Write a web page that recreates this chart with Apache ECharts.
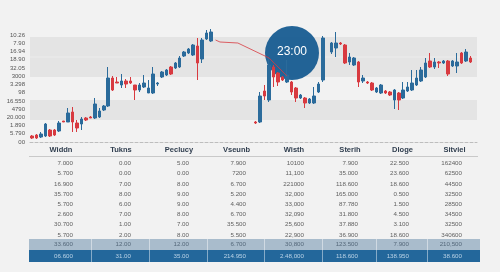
<!DOCTYPE html>
<html><head><meta charset="utf-8">
<script src="https://cdn.jsdelivr.net/npm/echarts@6/dist/echarts.min.js"></script>
<style>html,body{margin:0;padding:0;background:#f2f2f2}#c{width:500px;height:272px}</style>
</head><body><div id="c"></div>
<script>
// y-axis tick labels, bottom to top
const yTickLabels = ['00','5.790','1.890','20.000','4790','16.550','98','3.298','3000','32.05','18.90','16.94','7.90','10.26'];
// candle values per slot: [open, close, low, high], null = no candle
const ohlc = [
 [6,4,3,7],[7,4,3,8],[5,8,4,10],[6,18,5,19],[12,6,5,13],[12,7,6,13],[11,19,10,21],[21,20,20,21],[20,29,20,34],[30,20,10,35],
 [19,14,10,22],[18,23,12,25],[24,22,21,25],[25,24,24,26],[24,38,23,44],[25,31,24,34],[32,36,31,37],[36,64,35,75],[64,52,51,66],[60,59,59,65],
 [57,61,54,68],[61,58,54,63],[61,59,58,65],[57,52,42,57],[52,57,50,59],[55,59,54,67],[49,54,49,62],[49,68,48,75],[58,59,56,60],[65,70,64,71],
 [67,72,66,73],[75,68,67,76],[74,79,73,80],[75,84,74,86],[86,90,85,91],[89,93,88,94],[87,97,86,98],[96,79,62,104],[83,102,79,104],[103,109,102,112],
 [101,110,100,113],null,null,null,null,null,null,null,null,null,
 [20,19,18,21],[20,46,19,50],[51,46,42,57],[42,77,40,85],[75,65,55,77],[69,60,56,70],[65,62,61,66],[60,67,59,82],[60,50,47,61],[54,44,40,55],
 [44,47,43,48],[44,39,34,45],[39,43,38,44],[39,46,38,55],[50,58,49,60],[62,104,60,106],null,[90,99,88,100],[94,99,85,110],[99,98,97,100],
 [97,79,78,98],[80,85,77,89],[77,84,76,85],[80,60,55,81],[61,64,59,67],[60,59,58,61],[59,52,51,60],[50,54,49,55],[49,57,48,58],[51,49,48,52],
 [50,47,46,51],[42,52,33,53],[49,42,32,50],[44,52,43,60],[51,55,50,60],[52,59,51,72],[57,64,56,72],[61,72,60,75],[65,79,64,84],[81,75,74,89],
 [75,80,73,84],[80,79,74,81],[79,81,78,82],[81,68,66,82],[76,81,75,82],[76,80,69,89],[89,79,78,90],[81,90,80,93],[84,80,79,86],null
];
// red trend line: [slot, value]
const trendLine = [[41,102],[42,100],[46,99],[53,84],[57,66]];
const bubbleLabel = '23:00';
const tableHeaders = ['Widdn','Tukns','Peclucy','Vseunb','Wisth','Sterih','Dloge','Sitviel'];
const tableRows = [
 ['7.000','0.00','5.00','7.900','10100','7.900','22.500','162400'],
 ['5.700','0.00','0.00','7200','11,100','35.000','23.600','62500'],
 ['16.900','7.00','8.00','6.700','221000','118.600','18.600','44500'],
 ['35.700','8.00','9.00','5.200','32,000','165.000','0.500','32500'],
 ['5.700','6.00','9.00','4.400','33,000','87.780','1.500','28500'],
 ['2.600','7.00','8.00','6.700','32,090','31.800','4.500','34500'],
 ['30.700','1.00','7.00','35.500','25,600','37.880','3.100','32500'],
 ['5.700','2.00','8.00','5.500','22,900','36.900','18.600','340600']
];
const subtotalRow = ['33.600','12.00','12.00','6.700','30,800','123.500','7.900','210,500'];
const totalRow = ['06.600','31.00','35.00','214.950','2.48,000','118.600','138.950','38.600'];

const slots = ohlc.map((d, i) => String(i));
const BLUE = '#2b6b9b', RED = '#d83a40';
const YMAX = 107, YINT = YMAX / 13;

const chart = echarts.init(document.getElementById('c'));
const FONT = '"Liberation Sans", Arial, sans-serif';

// table graphics
const colEdges = [29, 91, 149, 207, 264, 322, 376, 427, 480];
const g = [];
g.push({type:'circle', z: 1, shape:{cx:292, cy:53, r:27}, style:{fill:'#175c91', opacity:0.95}});
g.push({type:'text', z: 10, x:292, y:52, style:{text:bubbleLabel, fill:'#ffffff', font:'12px ' + FONT, align:'center', verticalAlign:'middle'}});
tableHeaders.forEach((h, i) => {
  g.push({type:'text', x:(colEdges[i] + colEdges[i+1]) / 2 + 1, y:150, style:{text:h, fill:'#2f3d4e', font:'bold 7.5px ' + FONT, align:'center', verticalAlign:'middle'}});
});
g.push({type:'line', shape:{x1:29, y1:156.5, x2:478, y2:156.5}, style:{stroke:'#c9c9c9', lineWidth:1}});
function addRow(vals, cy, color) {
  vals.forEach((v, i) => {
    g.push({type:'text', x:colEdges[i+1] - 18, y:cy, style:{text:v, fill:color, font:'6.2px ' + FONT, align:'right', verticalAlign:'middle'}});
  });
}
tableRows.forEach((r, k) => addRow(r, 163.5 + 10.2 * k, '#5f5f5f'));
g.push({type:'rect', shape:{x:29, y:239, width:451, height:11}, style:{fill:'#a9bccc'}});
g.push({type:'rect', shape:{x:29, y:250, width:451, height:12}, style:{fill:'#23679b'}});
colEdges.slice(1, -1).forEach(x => {
  g.push({type:'line', shape:{x1:x + 0.5, y1:239, x2:x + 0.5, y2:262}, style:{stroke:'rgba(255,255,255,0.45)', lineWidth:1}});
});
addRow(subtotalRow, 244.5, '#55687a');
addRow(totalRow, 256, '#b9d2e6');

chart.setOption({
  backgroundColor: '#f2f2f2',
  animation: false,
  grid: {left: 30, right: 23, top: 35, bottom: 130},
  xAxis: {
    type: 'category', data: slots, boundaryGap: true,
    axisLine: {show: true, lineStyle: {color: '#bdbdbd', type: [3, 2], width: 1}},
    axisTick: {show: false}, axisLabel: {show: false}, splitLine: {show: false}
  },
  yAxis: {
    type: 'value', min: 0, max: YMAX, interval: YINT,
    axisLine: {show: false}, axisTick: {show: false}, splitLine: {show: false},
    axisLabel: {margin: 5, color: '#555', fontSize: 6, fontFamily: 'Liberation Sans',
      formatter: v => yTickLabels[Math.round(v / YINT)] || ''}
  },
  series: [
    {
      type: 'line', data: [], z: 0, silent: true,
      markArea: {z: 0, silent: true, itemStyle: {color: '#e4e4e4'}, data: [
        [{yAxis: 105}, {yAxis: 85.3}],
        [{yAxis: 84.7}, {yAxis: 65}],
        [{yAxis: 42}, {yAxis: 22}]
      ]}
    },
    {
      type: 'candlestick', z: 3, barWidth: 3,
      data: ohlc.map(d => d ? d : '-'),
      itemStyle: {color: BLUE, color0: RED, borderColor: BLUE, borderColor0: RED, borderWidth: 1}
    },
    {
      type: 'line', z: 4,
      data: trendLine.map((p, i) => ({value: [String(p[0]), p[1]], symbolSize: i < 3 ? [4, 3] : 0})),
      symbol: 'rect', showSymbol: true,
      lineStyle: {color: RED, width: 0.8}, itemStyle: {color: RED}
    }
  ],
  graphic: g
});
</script>
</body></html>
